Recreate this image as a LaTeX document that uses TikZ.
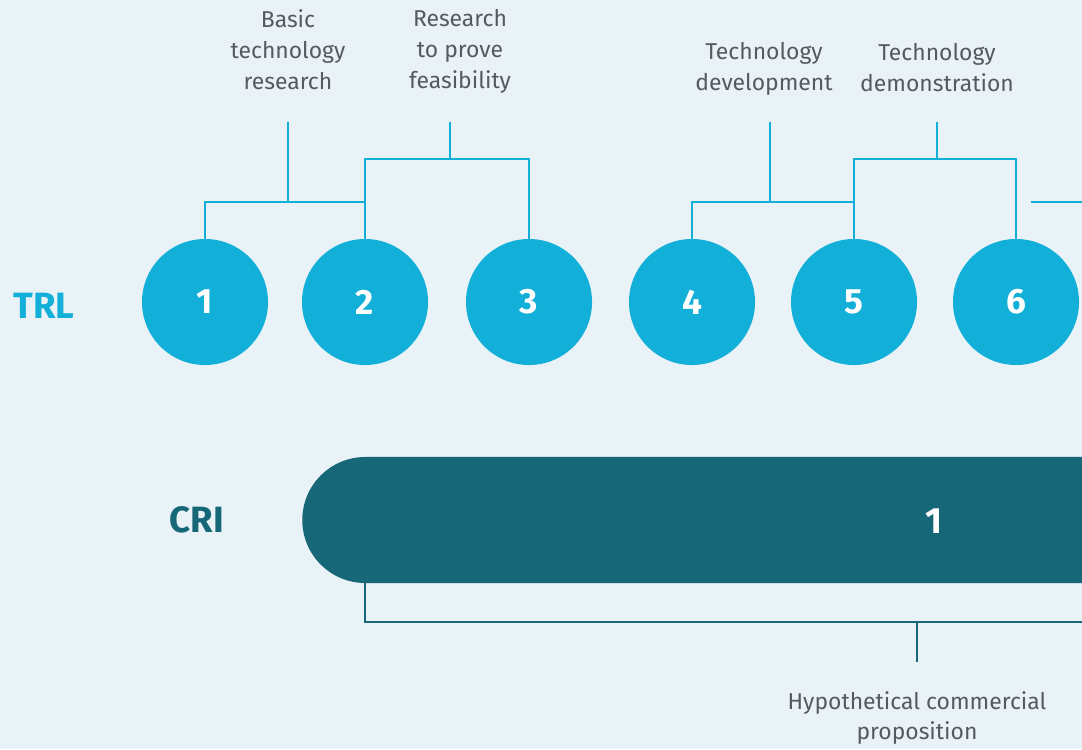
\documentclass[tikz,border=0pt]{standalone}
\usepackage{fontspec}
\setmainfont{Fira Sans}
\usetikzlibrary{positioning}
\definecolor{bgblue}{HTML}{E9F2F7}
\definecolor{trlcyan}{HTML}{12AFD8}
\definecolor{criteal}{HTML}{166878}
\definecolor{labelgray}{HTML}{555A5E}

\begin{document}
\begin{tikzpicture}[x=0.025cm, y=-0.025cm]
    \tikzset{trlstage/.style={%
      circle,%
      fill=trlcyan,%
      text=white,%
      minimum size=3.15cm,%
      inner sep=0pt,%
      font=\fontsize{25}{28}\selectfont\bfseries}%
    };
\tikzset{stagelabel/.style={align=center, text=labelgray, inner sep=0pt, font=\fontsize{16.3}{22}\selectfont}};
\tikzset{rowlabel/.style={inner sep=0pt, font=\fontsize{26}{30}\selectfont\bfseries}};
\tikzset{trlline/.style={draw=trlcyan, line width=1pt}};
\tikzset{criline/.style={draw=criteal, line width=1pt}};

\fill[bgblue] (0,0) rectangle (1082,749);
\clip (0,0) rectangle (1082,749);

%TRL row
\node[rowlabel, text=trlcyan] (trl) at (44,306) {TRL};
\foreach \n/\x in {1/205, 2/365, 3/529, 4/692, 5/854, 6/1016}
  \node[trlstage] (c\n) at (\x,302) {\n};

%stage labels
\node[stagelabel] (basic) at (288,50) {Basic\\technology\\research};
\node[stagelabel] (feasible) at (460,51) {Research\\to prove\\feasibility};
\node[stagelabel] (develop) at (764,69) {Technology\\development};
\node[stagelabel] (demo) at (937,68) {Technology\\demonstration};

%brackets over the circles
\coordinate (k1) at (288,202);
\coordinate (k1top) at (288,122);
\coordinate (k2) at (450,159);
\coordinate (k2top) at (450,122);
\coordinate (k3) at (770,202);
\coordinate (k3top) at (770,122);
\coordinate (k4) at (937,159);
\coordinate (k4top) at (937,122);
\coordinate (k5) at (1031,202);

\draw[trlline] (c1.north) |- (k1) -| (c2.north);
\draw[trlline] (k1top) -- (k1);
\draw[trlline] (c2.north) |- (k2) -| (c3.north);
\draw[trlline] (k2top) -- (k2);
\draw[trlline] (c4.north) |- (k3) -| (c5.north);
\draw[trlline] (k3top) -- (k3);
\draw[trlline] (c5.north) |- (k4) -| (c6.north);
\draw[trlline] (k4top) -- (k4);
\draw[trlline] (k5) -- ++(80,0);

%CRI row
\node[rowlabel, text=criteal] (cri) at (197,520) {CRI};
\node[fill=criteal, rounded corners=1.575cm, minimum width=22cm, minimum height=3.15cm,
      inner sep=0pt, anchor=west] (bar) at (302,520) {};
\node[rowlabel, text=white] (cri1) at (934,521) {1};

%bracket under the bar
\coordinate (p1) at ([xshift=1.575cm]bar.south west);
\coordinate (p2) at (1100,622);
\coordinate (pmid) at (917,622);
\coordinate (ptop) at (917,662);
\draw[criline] (p1) |- (p2);
\draw[criline] (pmid) -- (ptop);
\node[stagelabel] (hypo) at (917,718) {Hypothetical commercial\\proposition};

\end{tikzpicture}
\end{document}
